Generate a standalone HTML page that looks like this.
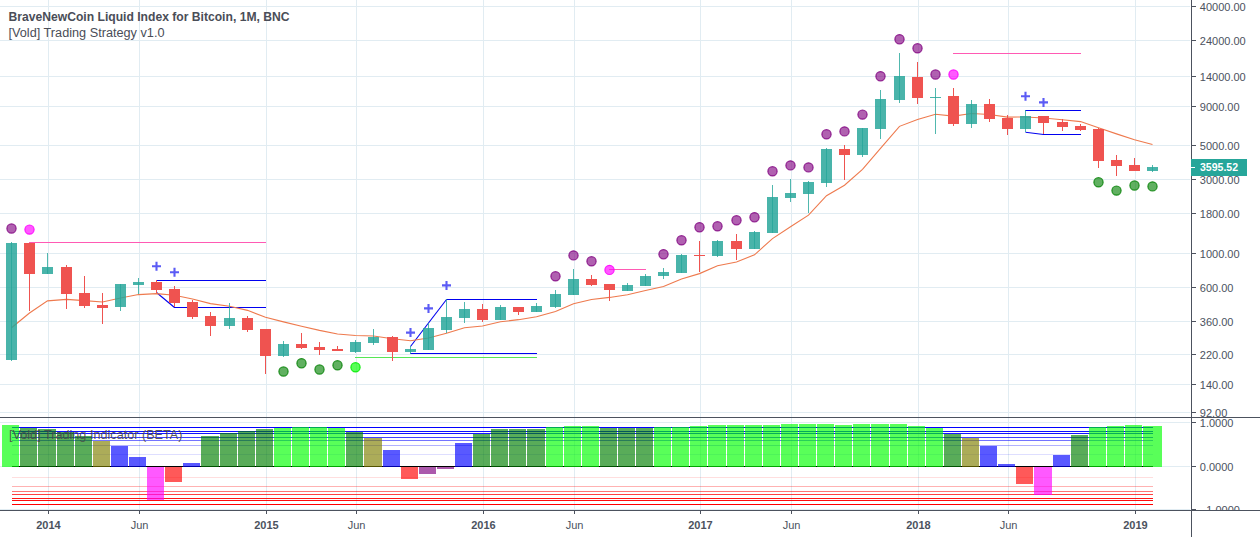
<!DOCTYPE html><html><head><meta charset="utf-8"><style>html,body{margin:0;padding:0;background:#fff;overflow:hidden}svg{display:block}text{font-family:"Liberation Sans",sans-serif}</style></head><body>
<svg width="1260" height="537" viewBox="0 0 1260 537" shape-rendering="crispEdges">
<rect width="1260" height="537" fill="#fff"/>
<rect x="0" y="6" width="1190" height="1" fill="#e1ecf2"/>
<rect x="0" y="40" width="1190" height="1" fill="#e1ecf2"/>
<rect x="0" y="76" width="1190" height="1" fill="#e1ecf2"/>
<rect x="0" y="106" width="1190" height="1" fill="#e1ecf2"/>
<rect x="0" y="145" width="1190" height="1" fill="#e1ecf2"/>
<rect x="0" y="179" width="1190" height="1" fill="#e1ecf2"/>
<rect x="0" y="213" width="1190" height="1" fill="#e1ecf2"/>
<rect x="0" y="253" width="1190" height="1" fill="#e1ecf2"/>
<rect x="0" y="287" width="1190" height="1" fill="#e1ecf2"/>
<rect x="0" y="321" width="1190" height="1" fill="#e1ecf2"/>
<rect x="0" y="354" width="1190" height="1" fill="#e1ecf2"/>
<rect x="0" y="384" width="1190" height="1" fill="#e1ecf2"/>
<rect x="0" y="412" width="1190" height="1" fill="#e1ecf2"/>
<rect x="48" y="0" width="1" height="417" fill="#e1ecf2"/>
<rect x="48" y="418" width="1" height="92" fill="#e1ecf2"/>
<rect x="139" y="0" width="1" height="417" fill="#e1ecf2"/>
<rect x="139" y="418" width="1" height="92" fill="#e1ecf2"/>
<rect x="266" y="0" width="1" height="417" fill="#e1ecf2"/>
<rect x="266" y="418" width="1" height="92" fill="#e1ecf2"/>
<rect x="356" y="0" width="1" height="417" fill="#e1ecf2"/>
<rect x="356" y="418" width="1" height="92" fill="#e1ecf2"/>
<rect x="483" y="0" width="1" height="417" fill="#e1ecf2"/>
<rect x="483" y="418" width="1" height="92" fill="#e1ecf2"/>
<rect x="574" y="0" width="1" height="417" fill="#e1ecf2"/>
<rect x="574" y="418" width="1" height="92" fill="#e1ecf2"/>
<rect x="700" y="0" width="1" height="417" fill="#e1ecf2"/>
<rect x="700" y="418" width="1" height="92" fill="#e1ecf2"/>
<rect x="791" y="0" width="1" height="417" fill="#e1ecf2"/>
<rect x="791" y="418" width="1" height="92" fill="#e1ecf2"/>
<rect x="918" y="0" width="1" height="417" fill="#e1ecf2"/>
<rect x="918" y="418" width="1" height="92" fill="#e1ecf2"/>
<rect x="1008" y="0" width="1" height="417" fill="#e1ecf2"/>
<rect x="1008" y="418" width="1" height="92" fill="#e1ecf2"/>
<rect x="1135" y="0" width="1" height="417" fill="#e1ecf2"/>
<rect x="1135" y="418" width="1" height="92" fill="#e1ecf2"/>
<rect x="0" y="422" width="1190" height="1" fill="#e1ecf2"/>
<rect x="0" y="466" width="1190" height="1" fill="#e1ecf2"/>
<rect x="0" y="509" width="1190" height="1" fill="#e1ecf2"/>
<rect x="29" y="242" width="237" height="1" fill="#ff5ab4" fill-opacity="1"/>
<rect x="609" y="269" width="37" height="1" fill="#ff5ab4" fill-opacity="1"/>
<rect x="953" y="53" width="128" height="1" fill="#ff5ab4" fill-opacity="1"/>
<rect x="156" y="280" width="110" height="1" fill="#0000f0" fill-opacity="1"/>
<polyline points="156.5,292.5 174.5,307.5" fill="none" stroke="#0000f0" stroke-width="1.1" stroke-opacity="1" shape-rendering="auto"/>
<rect x="174" y="307" width="92" height="1" fill="#0000f0" fill-opacity="1"/>
<polyline points="410.5,346.5 446.5,299.5" fill="none" stroke="#0000f0" stroke-width="1.1" stroke-opacity="1" shape-rendering="auto"/>
<rect x="446" y="299" width="91" height="1" fill="#0000f0" fill-opacity="1"/>
<rect x="410" y="353" width="127" height="1" fill="#0000f0" fill-opacity="1"/>
<rect x="1025" y="110" width="56" height="1" fill="#0000f0" fill-opacity="1"/>
<polyline points="1025.5,132.2 1043.5,134.5" fill="none" stroke="#0000f0" stroke-width="1.1" stroke-opacity="1" shape-rendering="auto"/>
<rect x="1043" y="134" width="38" height="1" fill="#0000f0" fill-opacity="1"/>
<rect x="355" y="357" width="182" height="1" fill="#55e655" fill-opacity="1"/>
<polyline points="11.5,327.7 29.5,312.97 47.5,300.9 66.5,299.36 84.5,300.58 102.5,301.96 120.5,298.01 138.5,294.58 156.5,293.58 174.5,295.29 192.5,299.04 210.5,303.59 229.5,306.27 247.5,310.34 265.5,317.28 283.5,321.85 301.5,326.31 319.5,330.41 337.5,334.03 355.5,335.57 373.5,335.93 392.5,338.77 410.5,340.71 428.5,337.99 446.5,333.31 464.5,327.72 482.5,326.03 500.5,321.82 518.5,319.67 536.5,316.73 555.5,311.55 573.5,303.71 591.5,299.47 609.5,297.42 627.5,294.77 645.5,290.52 663.5,286.46 681.5,278.9 699.5,273.62 717.5,265.76 736.5,261.93 754.5,254.86 772.5,238.65 790.5,226.69 808.5,215.11 826.5,195.7 844.5,185.22 862.5,169.31 880.5,148.27 899.5,126.36 917.5,119.56 935.5,114.32 953.5,116.1 971.5,113.52 989.5,114.52 1007.5,117.16 1025.5,116.97 1043.5,118.06 1062.5,119.72 1080.5,121.6 1098.5,127.8 1116.5,133.86 1134.5,139.79 1152.5,144.46" fill="none" stroke="#ee7a4e" stroke-width="1.1" stroke-opacity="1" shape-rendering="auto"/>
<rect x="11" y="242" width="1" height="119" fill="rgba(38,166,154,0.8)"/>
<rect x="6" y="243" width="11" height="117" fill="rgba(38,166,154,0.84)"/>
<rect x="29" y="243" width="1" height="68" fill="#ef5350"/>
<rect x="24" y="243" width="11" height="31" fill="#ef5350"/>
<rect x="47" y="253" width="1" height="21" fill="rgba(38,166,154,0.8)"/>
<rect x="42" y="267" width="11" height="7" fill="rgba(38,166,154,0.84)"/>
<rect x="66" y="265" width="1" height="44" fill="#ef5350"/>
<rect x="61" y="267" width="11" height="27" fill="#ef5350"/>
<rect x="84" y="276" width="1" height="32" fill="#ef5350"/>
<rect x="79" y="293" width="11" height="13" fill="#ef5350"/>
<rect x="102" y="293" width="1" height="31" fill="#ef5350"/>
<rect x="97" y="305" width="11" height="3" fill="#ef5350"/>
<rect x="120" y="284" width="1" height="27" fill="rgba(38,166,154,0.8)"/>
<rect x="115" y="284" width="11" height="23" fill="rgba(38,166,154,0.84)"/>
<rect x="138" y="278" width="1" height="16" fill="rgba(38,166,154,0.8)"/>
<rect x="133" y="282" width="11" height="3" fill="rgba(38,166,154,0.84)"/>
<rect x="156" y="280" width="1" height="13" fill="#ef5350"/>
<rect x="151" y="282" width="11" height="8" fill="#ef5350"/>
<rect x="174" y="286" width="1" height="21" fill="#ef5350"/>
<rect x="169" y="289" width="11" height="14" fill="#ef5350"/>
<rect x="192" y="300" width="1" height="19" fill="#ef5350"/>
<rect x="187" y="302" width="11" height="15" fill="#ef5350"/>
<rect x="210" y="312" width="1" height="24" fill="#ef5350"/>
<rect x="205" y="316" width="11" height="10" fill="#ef5350"/>
<rect x="229" y="303" width="1" height="26" fill="rgba(38,166,154,0.8)"/>
<rect x="224" y="318" width="11" height="8" fill="rgba(38,166,154,0.84)"/>
<rect x="247" y="316" width="1" height="16" fill="#ef5350"/>
<rect x="242" y="318" width="11" height="12" fill="#ef5350"/>
<rect x="265" y="329" width="1" height="45" fill="#ef5350"/>
<rect x="260" y="329" width="11" height="27" fill="#ef5350"/>
<rect x="283" y="341" width="1" height="16" fill="rgba(38,166,154,0.8)"/>
<rect x="278" y="344" width="11" height="12" fill="rgba(38,166,154,0.84)"/>
<rect x="301" y="333" width="1" height="16" fill="#ef5350"/>
<rect x="296" y="344" width="11" height="4" fill="#ef5350"/>
<rect x="319" y="342" width="1" height="13" fill="#ef5350"/>
<rect x="314" y="347" width="11" height="3" fill="#ef5350"/>
<rect x="337" y="346" width="1" height="5" fill="#ef5350"/>
<rect x="332" y="349" width="11" height="2" fill="#ef5350"/>
<rect x="355" y="340" width="1" height="13" fill="rgba(38,166,154,0.8)"/>
<rect x="350" y="342" width="11" height="10" fill="rgba(38,166,154,0.84)"/>
<rect x="373" y="329" width="1" height="16" fill="rgba(38,166,154,0.8)"/>
<rect x="368" y="337" width="11" height="6" fill="rgba(38,166,154,0.84)"/>
<rect x="392" y="336" width="1" height="25" fill="#ef5350"/>
<rect x="387" y="337" width="11" height="15" fill="#ef5350"/>
<rect x="410" y="346" width="1" height="8" fill="rgba(38,166,154,0.8)"/>
<rect x="405" y="349" width="11" height="3" fill="rgba(38,166,154,0.84)"/>
<rect x="428" y="323" width="1" height="27" fill="rgba(38,166,154,0.8)"/>
<rect x="423" y="328" width="11" height="22" fill="rgba(38,166,154,0.84)"/>
<rect x="446" y="299" width="1" height="34" fill="rgba(38,166,154,0.8)"/>
<rect x="441" y="317" width="11" height="13" fill="rgba(38,166,154,0.84)"/>
<rect x="464" y="302" width="1" height="21" fill="rgba(38,166,154,0.8)"/>
<rect x="459" y="309" width="11" height="9" fill="rgba(38,166,154,0.84)"/>
<rect x="482" y="304" width="1" height="18" fill="#ef5350"/>
<rect x="477" y="309" width="11" height="11" fill="#ef5350"/>
<rect x="500" y="305" width="1" height="15" fill="rgba(38,166,154,0.8)"/>
<rect x="495" y="307" width="11" height="13" fill="rgba(38,166,154,0.84)"/>
<rect x="518" y="307" width="1" height="8" fill="#ef5350"/>
<rect x="513" y="307" width="11" height="5" fill="#ef5350"/>
<rect x="536" y="303" width="1" height="9" fill="rgba(38,166,154,0.8)"/>
<rect x="531" y="306" width="11" height="6" fill="rgba(38,166,154,0.84)"/>
<rect x="555" y="290" width="1" height="18" fill="rgba(38,166,154,0.8)"/>
<rect x="550" y="294" width="11" height="13" fill="rgba(38,166,154,0.84)"/>
<rect x="573" y="269" width="1" height="26" fill="rgba(38,166,154,0.8)"/>
<rect x="568" y="279" width="11" height="16" fill="rgba(38,166,154,0.84)"/>
<rect x="591" y="275" width="1" height="11" fill="#ef5350"/>
<rect x="586" y="279" width="11" height="6" fill="#ef5350"/>
<rect x="609" y="284" width="1" height="17" fill="#ef5350"/>
<rect x="604" y="284" width="11" height="6" fill="#ef5350"/>
<rect x="627" y="283" width="1" height="8" fill="rgba(38,166,154,0.8)"/>
<rect x="622" y="285" width="11" height="6" fill="rgba(38,166,154,0.84)"/>
<rect x="645" y="274" width="1" height="12" fill="rgba(38,166,154,0.8)"/>
<rect x="640" y="276" width="11" height="10" fill="rgba(38,166,154,0.84)"/>
<rect x="663" y="268" width="1" height="11" fill="rgba(38,166,154,0.8)"/>
<rect x="658" y="272" width="11" height="4" fill="rgba(38,166,154,0.84)"/>
<rect x="681" y="254" width="1" height="19" fill="rgba(38,166,154,0.8)"/>
<rect x="676" y="255" width="11" height="18" fill="rgba(38,166,154,0.84)"/>
<rect x="699" y="241" width="1" height="31" fill="#ef5350"/>
<rect x="694" y="255" width="11" height="1" fill="#ef5350"/>
<rect x="717" y="240" width="1" height="17" fill="rgba(38,166,154,0.8)"/>
<rect x="712" y="241" width="11" height="15" fill="rgba(38,166,154,0.84)"/>
<rect x="736" y="234" width="1" height="26" fill="#ef5350"/>
<rect x="731" y="241" width="11" height="8" fill="#ef5350"/>
<rect x="754" y="231" width="1" height="18" fill="rgba(38,166,154,0.8)"/>
<rect x="749" y="232" width="11" height="17" fill="rgba(38,166,154,0.84)"/>
<rect x="772" y="185" width="1" height="48" fill="rgba(38,166,154,0.8)"/>
<rect x="767" y="197" width="11" height="36" fill="rgba(38,166,154,0.84)"/>
<rect x="790" y="179" width="1" height="23" fill="rgba(38,166,154,0.8)"/>
<rect x="785" y="193" width="11" height="5" fill="rgba(38,166,154,0.84)"/>
<rect x="808" y="181" width="1" height="32" fill="rgba(38,166,154,0.8)"/>
<rect x="803" y="182" width="11" height="12" fill="rgba(38,166,154,0.84)"/>
<rect x="826" y="148" width="1" height="39" fill="rgba(38,166,154,0.8)"/>
<rect x="821" y="149" width="11" height="34" fill="rgba(38,166,154,0.84)"/>
<rect x="844" y="145" width="1" height="35" fill="#ef5350"/>
<rect x="839" y="149" width="11" height="6" fill="#ef5350"/>
<rect x="862" y="128" width="1" height="29" fill="rgba(38,166,154,0.8)"/>
<rect x="857" y="128" width="11" height="27" fill="rgba(38,166,154,0.84)"/>
<rect x="880" y="90" width="1" height="49" fill="rgba(38,166,154,0.8)"/>
<rect x="875" y="99" width="11" height="30" fill="rgba(38,166,154,0.84)"/>
<rect x="899" y="53" width="1" height="50" fill="rgba(38,166,154,0.8)"/>
<rect x="894" y="76" width="11" height="24" fill="rgba(38,166,154,0.84)"/>
<rect x="917" y="62" width="1" height="42" fill="#ef5350"/>
<rect x="912" y="77" width="11" height="21" fill="#ef5350"/>
<rect x="935" y="88" width="1" height="46" fill="rgba(38,166,154,0.8)"/>
<rect x="930" y="97" width="11" height="1" fill="rgba(38,166,154,0.84)"/>
<rect x="953" y="88" width="1" height="38" fill="#ef5350"/>
<rect x="948" y="96" width="11" height="28" fill="#ef5350"/>
<rect x="971" y="100" width="1" height="28" fill="rgba(38,166,154,0.8)"/>
<rect x="966" y="104" width="11" height="20" fill="rgba(38,166,154,0.84)"/>
<rect x="989" y="99" width="1" height="23" fill="#ef5350"/>
<rect x="984" y="104" width="11" height="15" fill="#ef5350"/>
<rect x="1007" y="115" width="1" height="20" fill="#ef5350"/>
<rect x="1002" y="118" width="11" height="11" fill="#ef5350"/>
<rect x="1025" y="110" width="1" height="22" fill="rgba(38,166,154,0.8)"/>
<rect x="1020" y="116" width="11" height="13" fill="rgba(38,166,154,0.84)"/>
<rect x="1043" y="116" width="1" height="18" fill="#ef5350"/>
<rect x="1038" y="116" width="11" height="7" fill="#ef5350"/>
<rect x="1062" y="119" width="1" height="12" fill="#ef5350"/>
<rect x="1057" y="122" width="11" height="5" fill="#ef5350"/>
<rect x="1080" y="124" width="1" height="7" fill="#ef5350"/>
<rect x="1075" y="126" width="11" height="4" fill="#ef5350"/>
<rect x="1098" y="128" width="1" height="40" fill="#ef5350"/>
<rect x="1093" y="129" width="11" height="32" fill="#ef5350"/>
<rect x="1116" y="155" width="1" height="21" fill="#ef5350"/>
<rect x="1111" y="160" width="11" height="6" fill="#ef5350"/>
<rect x="1134" y="158" width="1" height="13" fill="#ef5350"/>
<rect x="1129" y="165" width="11" height="6" fill="#ef5350"/>
<rect x="1152" y="165" width="1" height="7" fill="rgba(38,166,154,0.8)"/>
<rect x="1147" y="167" width="11" height="4" fill="rgba(38,166,154,0.84)"/>
<circle cx="11.5" cy="228.5" r="4.6" fill="rgba(128,0,128,0.62)" stroke="rgba(128,0,128,0.82)" stroke-width="1.2" shape-rendering="auto"/>
<circle cx="555.5" cy="276.3" r="4.6" fill="rgba(128,0,128,0.62)" stroke="rgba(128,0,128,0.82)" stroke-width="1.2" shape-rendering="auto"/>
<circle cx="573.5" cy="255.4" r="4.6" fill="rgba(128,0,128,0.62)" stroke="rgba(128,0,128,0.82)" stroke-width="1.2" shape-rendering="auto"/>
<circle cx="591.5" cy="261.3" r="4.6" fill="rgba(128,0,128,0.62)" stroke="rgba(128,0,128,0.82)" stroke-width="1.2" shape-rendering="auto"/>
<circle cx="663.5" cy="254.2" r="4.6" fill="rgba(128,0,128,0.62)" stroke="rgba(128,0,128,0.82)" stroke-width="1.2" shape-rendering="auto"/>
<circle cx="681.5" cy="240.3" r="4.6" fill="rgba(128,0,128,0.62)" stroke="rgba(128,0,128,0.82)" stroke-width="1.2" shape-rendering="auto"/>
<circle cx="699.5" cy="227.2" r="4.6" fill="rgba(128,0,128,0.62)" stroke="rgba(128,0,128,0.82)" stroke-width="1.2" shape-rendering="auto"/>
<circle cx="717.5" cy="226.3" r="4.6" fill="rgba(128,0,128,0.62)" stroke="rgba(128,0,128,0.82)" stroke-width="1.2" shape-rendering="auto"/>
<circle cx="736.5" cy="220.3" r="4.6" fill="rgba(128,0,128,0.62)" stroke="rgba(128,0,128,0.82)" stroke-width="1.2" shape-rendering="auto"/>
<circle cx="754.5" cy="217.2" r="4.6" fill="rgba(128,0,128,0.62)" stroke="rgba(128,0,128,0.82)" stroke-width="1.2" shape-rendering="auto"/>
<circle cx="772.5" cy="171.3" r="4.6" fill="rgba(128,0,128,0.62)" stroke="rgba(128,0,128,0.82)" stroke-width="1.2" shape-rendering="auto"/>
<circle cx="790.5" cy="165.4" r="4.6" fill="rgba(128,0,128,0.62)" stroke="rgba(128,0,128,0.82)" stroke-width="1.2" shape-rendering="auto"/>
<circle cx="808.5" cy="167.4" r="4.6" fill="rgba(128,0,128,0.62)" stroke="rgba(128,0,128,0.82)" stroke-width="1.2" shape-rendering="auto"/>
<circle cx="826.5" cy="134.3" r="4.6" fill="rgba(128,0,128,0.62)" stroke="rgba(128,0,128,0.82)" stroke-width="1.2" shape-rendering="auto"/>
<circle cx="844.5" cy="131.4" r="4.6" fill="rgba(128,0,128,0.62)" stroke="rgba(128,0,128,0.82)" stroke-width="1.2" shape-rendering="auto"/>
<circle cx="862.5" cy="114.6" r="4.6" fill="rgba(128,0,128,0.62)" stroke="rgba(128,0,128,0.82)" stroke-width="1.2" shape-rendering="auto"/>
<circle cx="880.5" cy="76.2" r="4.6" fill="rgba(128,0,128,0.62)" stroke="rgba(128,0,128,0.82)" stroke-width="1.2" shape-rendering="auto"/>
<circle cx="899.5" cy="39.2" r="4.6" fill="rgba(128,0,128,0.62)" stroke="rgba(128,0,128,0.82)" stroke-width="1.2" shape-rendering="auto"/>
<circle cx="917.5" cy="48.3" r="4.6" fill="rgba(128,0,128,0.62)" stroke="rgba(128,0,128,0.82)" stroke-width="1.2" shape-rendering="auto"/>
<circle cx="935.5" cy="74.5" r="4.6" fill="rgba(128,0,128,0.62)" stroke="rgba(128,0,128,0.82)" stroke-width="1.2" shape-rendering="auto"/>
<circle cx="29.5" cy="229.6" r="4.6" fill="rgba(255,0,255,0.65)" stroke="rgba(255,0,255,0.88)" stroke-width="1.2" shape-rendering="auto"/>
<circle cx="609.5" cy="269.9" r="4.6" fill="rgba(255,0,255,0.65)" stroke="rgba(255,0,255,0.88)" stroke-width="1.2" shape-rendering="auto"/>
<circle cx="953.5" cy="74.5" r="4.6" fill="rgba(255,0,255,0.65)" stroke="rgba(255,0,255,0.88)" stroke-width="1.2" shape-rendering="auto"/>
<circle cx="283.5" cy="371.5" r="4.6" fill="rgba(0,128,0,0.62)" stroke="rgba(0,128,0,0.82)" stroke-width="1.2" shape-rendering="auto"/>
<circle cx="301.5" cy="363.2" r="4.6" fill="rgba(0,128,0,0.62)" stroke="rgba(0,128,0,0.82)" stroke-width="1.2" shape-rendering="auto"/>
<circle cx="319.5" cy="369.5" r="4.6" fill="rgba(0,128,0,0.62)" stroke="rgba(0,128,0,0.82)" stroke-width="1.2" shape-rendering="auto"/>
<circle cx="337.5" cy="365.3" r="4.6" fill="rgba(0,128,0,0.62)" stroke="rgba(0,128,0,0.82)" stroke-width="1.2" shape-rendering="auto"/>
<circle cx="1098.5" cy="182.3" r="4.6" fill="rgba(0,128,0,0.62)" stroke="rgba(0,128,0,0.82)" stroke-width="1.2" shape-rendering="auto"/>
<circle cx="1116.5" cy="190.6" r="4.6" fill="rgba(0,128,0,0.62)" stroke="rgba(0,128,0,0.82)" stroke-width="1.2" shape-rendering="auto"/>
<circle cx="1134.5" cy="185.5" r="4.6" fill="rgba(0,128,0,0.62)" stroke="rgba(0,128,0,0.82)" stroke-width="1.2" shape-rendering="auto"/>
<circle cx="1152.5" cy="186.4" r="4.6" fill="rgba(0,128,0,0.62)" stroke="rgba(0,128,0,0.82)" stroke-width="1.2" shape-rendering="auto"/>
<circle cx="355.5" cy="367.3" r="4.6" fill="rgba(0,255,0,0.65)" stroke="rgba(0,235,0,0.88)" stroke-width="1.2" shape-rendering="auto"/>
<path d="M152.0,266.2H161.0M156.5,261.7V270.7" stroke="#5b5bf5" stroke-width="2.1" fill="none" shape-rendering="auto"/>
<path d="M170.0,272.3H179.0M174.5,267.8V276.8" stroke="#5b5bf5" stroke-width="2.1" fill="none" shape-rendering="auto"/>
<path d="M406.0,332.6H415.0M410.5,328.1V337.1" stroke="#5b5bf5" stroke-width="2.1" fill="none" shape-rendering="auto"/>
<path d="M424.0,308.4H433.0M428.5,303.9V312.9" stroke="#5b5bf5" stroke-width="2.1" fill="none" shape-rendering="auto"/>
<path d="M442.0,285.4H451.0M446.5,280.9V289.9" stroke="#5b5bf5" stroke-width="2.1" fill="none" shape-rendering="auto"/>
<path d="M1021.0,96.3H1030.0M1025.5,91.8V100.8" stroke="#5b5bf5" stroke-width="2.1" fill="none" shape-rendering="auto"/>
<path d="M1039.0,102.4H1048.0M1043.5,97.9V106.9" stroke="#5b5bf5" stroke-width="2.1" fill="none" shape-rendering="auto"/>
<rect x="12" y="427" width="1141" height="1" fill="#0000ff" fill-opacity="1.0"/>
<rect x="12" y="431" width="1141" height="1" fill="#0000ff" fill-opacity="0.95"/>
<rect x="12" y="433" width="1141" height="1" fill="#0000ff" fill-opacity="0.92"/>
<rect x="12" y="437" width="1141" height="1" fill="#0000ff" fill-opacity="0.75"/>
<rect x="12" y="440" width="1141" height="1" fill="#0000ff" fill-opacity="0.55"/>
<rect x="12" y="445" width="1141" height="1" fill="#0000ff" fill-opacity="0.3"/>
<rect x="12" y="454" width="1141" height="1" fill="#0000ff" fill-opacity="0.13"/>
<rect x="12" y="477" width="1141" height="1" fill="#ff0000" fill-opacity="0.13"/>
<rect x="12" y="486" width="1141" height="1" fill="#ff0000" fill-opacity="0.3"/>
<rect x="12" y="491" width="1141" height="1" fill="#ff0000" fill-opacity="0.55"/>
<rect x="12" y="494" width="1141" height="1" fill="#ff0000" fill-opacity="0.75"/>
<rect x="12" y="498" width="1141" height="1" fill="#ff0000" fill-opacity="0.92"/>
<rect x="12" y="500" width="1141" height="1" fill="#ff0000" fill-opacity="0.95"/>
<rect x="12" y="504" width="1141" height="1" fill="#ff0000" fill-opacity="1.0"/>
<rect x="12" y="466" width="1141" height="1" fill="#000"/>
<rect x="2" y="425" width="17" height="42" fill="rgba(0,255,0,0.65)"/>
<rect x="20" y="428" width="17" height="39" fill="rgba(0,128,0,0.65)"/>
<rect x="38" y="429" width="18" height="38" fill="rgba(0,128,0,0.65)"/>
<rect x="57" y="432" width="17" height="35" fill="rgba(0,128,0,0.65)"/>
<rect x="75" y="436" width="17" height="31" fill="rgba(0,128,0,0.65)"/>
<rect x="93" y="441" width="17" height="26" fill="rgba(128,128,0,0.65)"/>
<rect x="111" y="446" width="17" height="21" fill="rgba(0,0,255,0.65)"/>
<rect x="129" y="457" width="17" height="10" fill="rgba(0,0,255,0.65)"/>
<rect x="147" y="467" width="17" height="33" fill="rgba(255,0,255,0.65)"/>
<rect x="165" y="467" width="17" height="15" fill="rgba(255,0,0,0.65)"/>
<rect x="183" y="463" width="17" height="4" fill="rgba(0,0,255,0.65)"/>
<rect x="201" y="436" width="18" height="31" fill="rgba(0,128,0,0.65)"/>
<rect x="220" y="433" width="17" height="34" fill="rgba(0,128,0,0.65)"/>
<rect x="238" y="431" width="17" height="36" fill="rgba(0,128,0,0.65)"/>
<rect x="256" y="429" width="17" height="38" fill="rgba(0,128,0,0.65)"/>
<rect x="274" y="428" width="17" height="39" fill="rgba(0,255,0,0.65)"/>
<rect x="292" y="427" width="17" height="40" fill="rgba(0,255,0,0.65)"/>
<rect x="310" y="427" width="17" height="40" fill="rgba(0,255,0,0.65)"/>
<rect x="328" y="428" width="17" height="39" fill="rgba(0,255,0,0.65)"/>
<rect x="346" y="432" width="17" height="35" fill="rgba(0,128,0,0.65)"/>
<rect x="364" y="438" width="18" height="29" fill="rgba(128,128,0,0.65)"/>
<rect x="383" y="450" width="17" height="17" fill="rgba(0,0,255,0.65)"/>
<rect x="401" y="467" width="17" height="12" fill="rgba(255,0,0,0.65)"/>
<rect x="419" y="467" width="17" height="7" fill="rgba(128,0,128,0.65)"/>
<rect x="437" y="467" width="17" height="2" fill="rgba(128,0,128,0.65)"/>
<rect x="455" y="443" width="17" height="24" fill="rgba(0,0,255,0.65)"/>
<rect x="473" y="434" width="17" height="33" fill="rgba(0,128,0,0.65)"/>
<rect x="491" y="429" width="17" height="38" fill="rgba(0,128,0,0.65)"/>
<rect x="509" y="429" width="17" height="38" fill="rgba(0,128,0,0.65)"/>
<rect x="527" y="429" width="18" height="38" fill="rgba(0,128,0,0.65)"/>
<rect x="546" y="427" width="17" height="40" fill="rgba(0,255,0,0.65)"/>
<rect x="564" y="426" width="17" height="41" fill="rgba(0,255,0,0.65)"/>
<rect x="582" y="426" width="17" height="41" fill="rgba(0,255,0,0.65)"/>
<rect x="600" y="428" width="17" height="39" fill="rgba(0,128,0,0.65)"/>
<rect x="618" y="428" width="17" height="39" fill="rgba(0,128,0,0.65)"/>
<rect x="636" y="428" width="17" height="39" fill="rgba(0,128,0,0.65)"/>
<rect x="654" y="427" width="17" height="40" fill="rgba(0,255,0,0.65)"/>
<rect x="672" y="427" width="17" height="40" fill="rgba(0,255,0,0.65)"/>
<rect x="690" y="426" width="17" height="41" fill="rgba(0,255,0,0.65)"/>
<rect x="708" y="425" width="18" height="42" fill="rgba(0,255,0,0.65)"/>
<rect x="727" y="425" width="17" height="42" fill="rgba(0,255,0,0.65)"/>
<rect x="745" y="425" width="17" height="42" fill="rgba(0,255,0,0.65)"/>
<rect x="763" y="425" width="17" height="42" fill="rgba(0,255,0,0.65)"/>
<rect x="781" y="424" width="17" height="43" fill="rgba(0,255,0,0.65)"/>
<rect x="799" y="424" width="17" height="43" fill="rgba(0,255,0,0.65)"/>
<rect x="817" y="424" width="17" height="43" fill="rgba(0,255,0,0.65)"/>
<rect x="835" y="425" width="17" height="42" fill="rgba(0,255,0,0.65)"/>
<rect x="853" y="424" width="17" height="43" fill="rgba(0,255,0,0.65)"/>
<rect x="871" y="424" width="18" height="43" fill="rgba(0,255,0,0.65)"/>
<rect x="890" y="424" width="17" height="43" fill="rgba(0,255,0,0.65)"/>
<rect x="908" y="426" width="17" height="41" fill="rgba(0,255,0,0.65)"/>
<rect x="926" y="428" width="17" height="39" fill="rgba(0,255,0,0.65)"/>
<rect x="944" y="434" width="17" height="33" fill="rgba(0,128,0,0.65)"/>
<rect x="962" y="438" width="17" height="29" fill="rgba(128,128,0,0.65)"/>
<rect x="980" y="446" width="17" height="21" fill="rgba(0,0,255,0.65)"/>
<rect x="998" y="464" width="17" height="3" fill="rgba(0,0,255,0.65)"/>
<rect x="1016" y="467" width="17" height="17" fill="rgba(255,0,0,0.65)"/>
<rect x="1034" y="467" width="18" height="28" fill="rgba(255,0,255,0.65)"/>
<rect x="1053" y="455" width="17" height="12" fill="rgba(0,0,255,0.65)"/>
<rect x="1071" y="435" width="17" height="32" fill="rgba(0,128,0,0.65)"/>
<rect x="1089" y="427" width="17" height="40" fill="rgba(0,255,0,0.65)"/>
<rect x="1107" y="426" width="17" height="41" fill="rgba(0,255,0,0.65)"/>
<rect x="1125" y="425" width="17" height="42" fill="rgba(0,255,0,0.65)"/>
<rect x="1143" y="426" width="19" height="41" fill="rgba(0,255,0,0.65)"/>
<text x="9" y="439" font-size="13.5" fill="#4a4a4a" fill-opacity="0.92" textLength="173.5" lengthAdjust="spacingAndGlyphs">[Vold] Trading Indicator (BETA)</text>
<rect x="1191" y="0" width="1" height="537" fill="#4c525e"/>
<rect x="0" y="417" width="1260" height="1" fill="#4c525e"/>
<rect x="0" y="510" width="1260" height="1" fill="#4c525e"/>
<defs><clipPath id="c1"><rect x="1192" y="0" width="68" height="417"/></clipPath><clipPath id="c2"><rect x="1192" y="418" width="68" height="92"/></clipPath></defs>
<g clip-path="url(#c1)">
<rect x="1192" y="6" width="4" height="1" fill="#4c525e"/>
<text x="1199.8" y="10.5" font-size="11" fill="#4c525e">40000.00</text>
<rect x="1192" y="40" width="4" height="1" fill="#4c525e"/>
<text x="1199.8" y="44.5" font-size="11" fill="#4c525e">24000.00</text>
<rect x="1192" y="76" width="4" height="1" fill="#4c525e"/>
<text x="1199.8" y="80.5" font-size="11" fill="#4c525e">14000.00</text>
<rect x="1192" y="106" width="4" height="1" fill="#4c525e"/>
<text x="1199.8" y="110.5" font-size="11" fill="#4c525e">9000.00</text>
<rect x="1192" y="145" width="4" height="1" fill="#4c525e"/>
<text x="1199.8" y="149.5" font-size="11" fill="#4c525e">5000.00</text>
<rect x="1192" y="179" width="4" height="1" fill="#4c525e"/>
<text x="1199.8" y="183.5" font-size="11" fill="#4c525e">3000.00</text>
<rect x="1192" y="213" width="4" height="1" fill="#4c525e"/>
<text x="1199.8" y="217.5" font-size="11" fill="#4c525e">1800.00</text>
<rect x="1192" y="253" width="4" height="1" fill="#4c525e"/>
<text x="1199.8" y="257.5" font-size="11" fill="#4c525e">1000.00</text>
<rect x="1192" y="287" width="4" height="1" fill="#4c525e"/>
<text x="1199.8" y="291.5" font-size="11" fill="#4c525e">600.00</text>
<rect x="1192" y="321" width="4" height="1" fill="#4c525e"/>
<text x="1199.8" y="325.5" font-size="11" fill="#4c525e">360.00</text>
<rect x="1192" y="354" width="4" height="1" fill="#4c525e"/>
<text x="1199.8" y="358.5" font-size="11" fill="#4c525e">220.00</text>
<rect x="1192" y="384" width="4" height="1" fill="#4c525e"/>
<text x="1199.8" y="388.5" font-size="11" fill="#4c525e">140.00</text>
<rect x="1192" y="412" width="4" height="1" fill="#4c525e"/>
<text x="1199.8" y="416.5" font-size="11" fill="#4c525e">92.00</text>
</g><g clip-path="url(#c2)">
<rect x="1192" y="422" width="4" height="1" fill="#4c525e"/>
<text x="1199.8" y="426.5" font-size="11" fill="#4c525e">1.0000</text>
<rect x="1192" y="466" width="4" height="1" fill="#4c525e"/>
<text x="1199.8" y="470.5" font-size="11" fill="#4c525e">0.0000</text>
<rect x="1192" y="509" width="4" height="1" fill="#4c525e"/>
<text x="1199.8" y="513.5" font-size="11" fill="#4c525e">−1.0000</text>
</g>
<rect x="1191" y="159" width="56" height="17" fill="#26a69a"/>
<rect x="1191" y="167" width="4" height="1" fill="#fff"/>
<text x="1200" y="171" font-size="11" font-weight="bold" fill="#fff" textLength="38" lengthAdjust="spacingAndGlyphs">3595.52</text>
<rect x="48" y="511" width="1" height="3" fill="#4c525e"/>
<text x="48.5" y="529" font-size="11" text-anchor="middle" font-weight="bold" fill="#4c525e">2014</text>
<rect x="139" y="511" width="1" height="3" fill="#4c525e"/>
<text x="139.5" y="529" font-size="11" text-anchor="middle" fill="#4c525e">Jun</text>
<rect x="266" y="511" width="1" height="3" fill="#4c525e"/>
<text x="266.5" y="529" font-size="11" text-anchor="middle" font-weight="bold" fill="#4c525e">2015</text>
<rect x="356" y="511" width="1" height="3" fill="#4c525e"/>
<text x="356.5" y="529" font-size="11" text-anchor="middle" fill="#4c525e">Jun</text>
<rect x="483" y="511" width="1" height="3" fill="#4c525e"/>
<text x="483.5" y="529" font-size="11" text-anchor="middle" font-weight="bold" fill="#4c525e">2016</text>
<rect x="574" y="511" width="1" height="3" fill="#4c525e"/>
<text x="574.5" y="529" font-size="11" text-anchor="middle" fill="#4c525e">Jun</text>
<rect x="700" y="511" width="1" height="3" fill="#4c525e"/>
<text x="700.5" y="529" font-size="11" text-anchor="middle" font-weight="bold" fill="#4c525e">2017</text>
<rect x="791" y="511" width="1" height="3" fill="#4c525e"/>
<text x="791.5" y="529" font-size="11" text-anchor="middle" fill="#4c525e">Jun</text>
<rect x="918" y="511" width="1" height="3" fill="#4c525e"/>
<text x="918.5" y="529" font-size="11" text-anchor="middle" font-weight="bold" fill="#4c525e">2018</text>
<rect x="1008" y="511" width="1" height="3" fill="#4c525e"/>
<text x="1008.5" y="529" font-size="11" text-anchor="middle" fill="#4c525e">Jun</text>
<rect x="1135" y="511" width="1" height="3" fill="#4c525e"/>
<text x="1135.5" y="529" font-size="11" text-anchor="middle" font-weight="bold" fill="#4c525e">2019</text>
<text x="8.5" y="21" font-size="12.5" font-weight="bold" fill="#4a4d57" textLength="281" lengthAdjust="spacingAndGlyphs">BraveNewCoin Liquid Index for Bitcoin, 1M, BNC</text>
<text x="8.5" y="37.4" font-size="12.5" fill="#4a4d57" textLength="156" lengthAdjust="spacingAndGlyphs">[Vold] Trading Strategy v1.0</text>
</svg></body></html>
